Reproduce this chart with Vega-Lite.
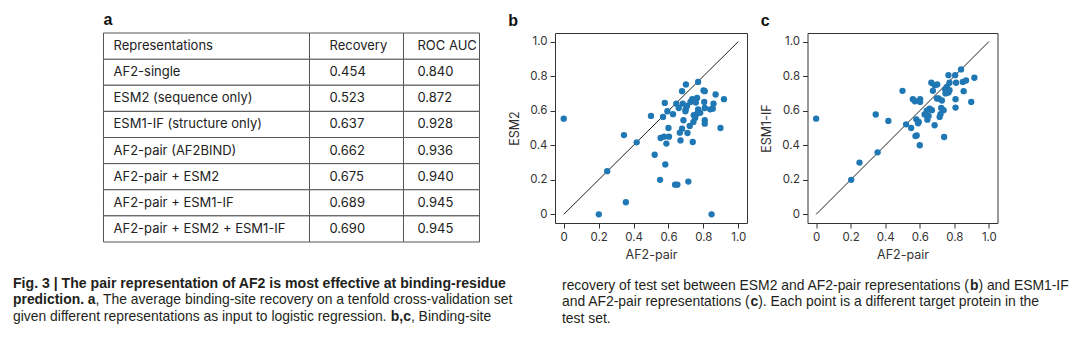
{
  "$schema": "https://vega.github.io/schema/vega-lite/v6.json",
  "padding": {"left": 13, "top": 11, "right": 5, "bottom": 5},
  "background": "white",
  "config": {
    "font": "Inter",
    "axis": {"labelFont": "Inter", "labelFontSize": 11.5, "labelColor": "#333", "titleFont": "Inter", "titleFontSize": 12.5, "titleFontWeight": "normal", "titleColor": "#333", "tickColor": "#333", "tickSize": 5, "domain": false, "grid": false, "labelPadding": 3},
    "axisX": {"titlePadding": 6},
    "axisY": {"titlePadding": 8}
  },
  "datasets": {
    "table": [
      {"Representations": "AF2-single", "Recovery": 0.454, "ROC AUC": 0.840},
      {"Representations": "ESM2 (sequence only)", "Recovery": 0.523, "ROC AUC": 0.872},
      {"Representations": "ESM1-IF (structure only)", "Recovery": 0.637, "ROC AUC": 0.928},
      {"Representations": "AF2-pair (AF2BIND)", "Recovery": 0.662, "ROC AUC": 0.936},
      {"Representations": "AF2-pair + ESM2", "Recovery": 0.675, "ROC AUC": 0.940},
      {"Representations": "AF2-pair + ESM1-IF", "Recovery": 0.689, "ROC AUC": 0.945},
      {"Representations": "AF2-pair + ESM2 + ESM1-IF", "Recovery": 0.690, "ROC AUC": 0.945}
    ],
    "header": [{"column": "Representations"}, {"column": "Recovery"}, {"column": "ROC AUC"}],
    "diag": [{"v": 0}, {"v": 1}],
    "esm2": [
      {"af2_pair": 0, "esm2": 0.554}, {"af2_pair": 0.201, "esm2": 0}, {"af2_pair": 0.249, "esm2": 0.25}, {"af2_pair": 0.356, "esm2": 0.07},
      {"af2_pair": 0.345, "esm2": 0.459}, {"af2_pair": 0.418, "esm2": 0.417}, {"af2_pair": 0.5, "esm2": 0.57}, {"af2_pair": 0.521, "esm2": 0.345},
      {"af2_pair": 0.552, "esm2": 0.2}, {"af2_pair": 0.582, "esm2": 0.289}, {"af2_pair": 0.588, "esm2": 0.41}, {"af2_pair": 0.555, "esm2": 0.442},
      {"af2_pair": 0.575, "esm2": 0.45}, {"af2_pair": 0.603, "esm2": 0.45}, {"af2_pair": 0.6, "esm2": 0.5}, {"af2_pair": 0.579, "esm2": 0.645},
      {"af2_pair": 0.569, "esm2": 0.564}, {"af2_pair": 0.594, "esm2": 0.597}, {"af2_pair": 0.626, "esm2": 0.58}, {"af2_pair": 0.645, "esm2": 0.641},
      {"af2_pair": 0.638, "esm2": 0.172}, {"af2_pair": 0.651, "esm2": 0.172}, {"af2_pair": 0.669, "esm2": 0.428}, {"af2_pair": 0.678, "esm2": 0.496},
      {"af2_pair": 0.665, "esm2": 0.473}, {"af2_pair": 0.678, "esm2": 0.713}, {"af2_pair": 0.7, "esm2": 0.752}, {"af2_pair": 0.686, "esm2": 0.545},
      {"af2_pair": 0.682, "esm2": 0.641}, {"af2_pair": 0.659, "esm2": 0.616}, {"af2_pair": 0.699, "esm2": 0.608}, {"af2_pair": 0.714, "esm2": 0.19},
      {"af2_pair": 0.709, "esm2": 0.471}, {"af2_pair": 0.722, "esm2": 0.512}, {"af2_pair": 0.697, "esm2": 0.597}, {"af2_pair": 0.707, "esm2": 0.628},
      {"af2_pair": 0.726, "esm2": 0.651}, {"af2_pair": 0.736, "esm2": 0.667}, {"af2_pair": 0.743, "esm2": 0.535}, {"af2_pair": 0.739, "esm2": 0.419},
      {"af2_pair": 0.753, "esm2": 0.558}, {"af2_pair": 0.745, "esm2": 0.574}, {"af2_pair": 0.764, "esm2": 0.674}, {"af2_pair": 0.77, "esm2": 0.767},
      {"af2_pair": 0.757, "esm2": 0.647}, {"af2_pair": 0.77, "esm2": 0.608}, {"af2_pair": 0.764, "esm2": 0.583}, {"af2_pair": 0.782, "esm2": 0.589},
      {"af2_pair": 0.801, "esm2": 0.717}, {"af2_pair": 0.808, "esm2": 0.713}, {"af2_pair": 0.805, "esm2": 0.651}, {"af2_pair": 0.808, "esm2": 0.616},
      {"af2_pair": 0.808, "esm2": 0.545}, {"af2_pair": 0.808, "esm2": 0.525}, {"af2_pair": 0.839, "esm2": 0.608}, {"af2_pair": 0.854, "esm2": 0.612},
      {"af2_pair": 0.858, "esm2": 0.641}, {"af2_pair": 0.87, "esm2": 0.694}, {"af2_pair": 0.898, "esm2": 0.5}, {"af2_pair": 0.918, "esm2": 0.667},
      {"af2_pair": 0.847, "esm2": 0}
    ],
    "esm1if": [
      {"af2_pair": 0, "esm1_if": 0.554}, {"af2_pair": 0.203, "esm1_if": 0.2}, {"af2_pair": 0.251, "esm1_if": 0.3}, {"af2_pair": 0.356, "esm1_if": 0.359},
      {"af2_pair": 0.345, "esm1_if": 0.578}, {"af2_pair": 0.418, "esm1_if": 0.541}, {"af2_pair": 0.5, "esm1_if": 0.715}, {"af2_pair": 0.521, "esm1_if": 0.521},
      {"af2_pair": 0.55, "esm1_if": 0.5}, {"af2_pair": 0.58, "esm1_if": 0.55}, {"af2_pair": 0.6, "esm1_if": 0.4}, {"af2_pair": 0.575, "esm1_if": 0.453},
      {"af2_pair": 0.582, "esm1_if": 0.457}, {"af2_pair": 0.594, "esm1_if": 0.535}, {"af2_pair": 0.59, "esm1_if": 0.527}, {"af2_pair": 0.56, "esm1_if": 0.667},
      {"af2_pair": 0.572, "esm1_if": 0.655}, {"af2_pair": 0.602, "esm1_if": 0.667}, {"af2_pair": 0.602, "esm1_if": 0.651}, {"af2_pair": 0.628, "esm1_if": 0.578},
      {"af2_pair": 0.644, "esm1_if": 0.548}, {"af2_pair": 0.651, "esm1_if": 0.57}, {"af2_pair": 0.657, "esm1_if": 0.612}, {"af2_pair": 0.67, "esm1_if": 0.603},
      {"af2_pair": 0.686, "esm1_if": 0.516}, {"af2_pair": 0.667, "esm1_if": 0.762}, {"af2_pair": 0.686, "esm1_if": 0.748}, {"af2_pair": 0.676, "esm1_if": 0.715},
      {"af2_pair": 0.701, "esm1_if": 0.752}, {"af2_pair": 0.699, "esm1_if": 0.671}, {"af2_pair": 0.709, "esm1_if": 0.671}, {"af2_pair": 0.715, "esm1_if": 0.564},
      {"af2_pair": 0.728, "esm1_if": 0.659}, {"af2_pair": 0.724, "esm1_if": 0.616}, {"af2_pair": 0.738, "esm1_if": 0.603}, {"af2_pair": 0.741, "esm1_if": 0.448},
      {"af2_pair": 0.747, "esm1_if": 0.723}, {"af2_pair": 0.757, "esm1_if": 0.738}, {"af2_pair": 0.749, "esm1_if": 0.7}, {"af2_pair": 0.772, "esm1_if": 0.762},
      {"af2_pair": 0.772, "esm1_if": 0.719}, {"af2_pair": 0.766, "esm1_if": 0.705}, {"af2_pair": 0.805, "esm1_if": 0.806}, {"af2_pair": 0.81, "esm1_if": 0.762},
      {"af2_pair": 0.807, "esm1_if": 0.667}, {"af2_pair": 0.807, "esm1_if": 0.618}, {"af2_pair": 0.766, "esm1_if": 0.806}, {"af2_pair": 0.839, "esm1_if": 0.839},
      {"af2_pair": 0.849, "esm1_if": 0.767}, {"af2_pair": 0.854, "esm1_if": 0.713}, {"af2_pair": 0.868, "esm1_if": 0.775}, {"af2_pair": 0.898, "esm1_if": 0.651},
      {"af2_pair": 0.916, "esm1_if": 0.791}, {"af2_pair": 0.64, "esm1_if": 0.6}, {"af2_pair": 0.72, "esm1_if": 0.58}
    ],
    "caption": [
      {"col": "left", "line": 1, "segment": "L1", "text": "Fig. 3 | The pair representation of AF2 is most effective at binding-residue"},
      {"col": "left", "line": 2, "segment": "L2a", "text": "prediction. a"},
      {"col": "left", "line": 2, "segment": "L2b", "text": ", The average binding-site recovery on a tenfold cross-validation set"},
      {"col": "left", "line": 3, "segment": "L3a", "text": "given different representations as input to logistic regression."},
      {"col": "left", "line": 3, "segment": "L3b", "text": "b,c"},
      {"col": "left", "line": 3, "segment": "L3c", "text": ", Binding-site"},
      {"col": "right", "line": 1, "segment": "R1a", "text": "recovery of test set between ESM2 and AF2-pair representations ("},
      {"col": "right", "line": 1, "segment": "R1b", "text": "b"},
      {"col": "right", "line": 1, "segment": "R1c", "text": ") and ESM1-IF"},
      {"col": "right", "line": 2, "segment": "R2a", "text": "and AF2-pair representations ("},
      {"col": "right", "line": 2, "segment": "R2b", "text": "c"},
      {"col": "right", "line": 2, "segment": "R2c", "text": "). Each point is a different target protein in the"},
      {"col": "right", "line": 3, "segment": "R3", "text": "test set."}
    ]
  },
  "spacing": 14.5,
  "vconcat": [
    {
      "spacing": 26.5,
      "hconcat": [
        {
          "width": 62.5, "height": 10,
          "view": {"stroke": null},
          "data": {"values": [{}]},
          "mark": {"type": "text"},
          "encoding": {"text": {"value": ""}}
        },
        {
          "title": {"text": "a", "anchor": "start", "frame": "group", "offset": 5, "fontSize": 16, "fontWeight": "bold", "font": "Liberation Sans", "color": "#111"},
          "spacing": 0,
          "bounds": "flush",
          "hconcat": [
            {
              "width": 206, "height": 209,
              "view": {"stroke": null},
              "encoding": {
                "x": {"datum": 0, "type": "quantitative", "scale": {"domain": [0, 1]}, "axis": null}
              },
              "layer": [
                {
                  "data": {"name": "table"},
                  "mark": {"type": "rect", "fill": "white", "stroke": "#555", "strokeWidth": 1},
                  "encoding": {"y": {"field": "Representations", "type": "nominal", "scale": {"domain": ["Representations", "AF2-single", "ESM2 (sequence only)", "ESM1-IF (structure only)", "AF2-pair (AF2BIND)", "AF2-pair + ESM2", "AF2-pair + ESM1-IF", "AF2-pair + ESM2 + ESM1-IF"], "paddingInner": 0, "paddingOuter": 0}, "axis": null}, "x": null}
                },
                {
                  "data": {"name": "header"},
                  "transform": [{"filter": "datum.column == 'Representations'"}],
                  "mark": {"type": "rect", "fill": "white", "stroke": "#555", "strokeWidth": 1},
                  "encoding": {"y": {"datum": "Representations", "type": "nominal"}, "x": null}
                },
                {
                  "data": {"name": "table"},
                  "mark": {"type": "text", "align": "left", "dx": 10, "font": "Inter", "fontSize": 13, "color": "#222"},
                  "encoding": {"y": {"field": "Representations", "type": "nominal"}, "text": {"field": "Representations"}}
                },
                {
                  "data": {"name": "header"},
                  "transform": [{"filter": "datum.column == 'Representations'"}],
                  "mark": {"type": "text", "align": "left", "dx": 10, "font": "Inter", "fontSize": 13, "color": "#222"},
                  "encoding": {"y": {"datum": "Representations", "type": "nominal"}, "text": {"field": "column"}}
                }
              ]
            },
            {
              "width": 94, "height": 209,
              "view": {"stroke": null},
              "encoding": {
                "x": {"datum": 0, "type": "quantitative", "scale": {"domain": [0, 1]}, "axis": null}
              },
              "layer": [
                {
                  "data": {"name": "table"},
                  "mark": {"type": "rect", "fill": "white", "stroke": "#555", "strokeWidth": 1},
                  "encoding": {"y": {"field": "Representations", "type": "nominal", "scale": {"domain": ["Representations", "AF2-single", "ESM2 (sequence only)", "ESM1-IF (structure only)", "AF2-pair (AF2BIND)", "AF2-pair + ESM2", "AF2-pair + ESM1-IF", "AF2-pair + ESM2 + ESM1-IF"], "paddingInner": 0, "paddingOuter": 0}, "axis": null}, "x": null}
                },
                {
                  "data": {"name": "header"},
                  "transform": [{"filter": "datum.column == 'Recovery'"}],
                  "mark": {"type": "rect", "fill": "white", "stroke": "#555", "strokeWidth": 1},
                  "encoding": {"y": {"datum": "Representations", "type": "nominal"}, "x": null}
                },
                {
                  "data": {"name": "table"},
                  "mark": {"type": "text", "align": "left", "dx": 20, "font": "Inter", "fontSize": 13, "color": "#222"},
                  "encoding": {"y": {"field": "Representations", "type": "nominal"}, "text": {"field": "Recovery", "type": "quantitative", "format": ".3f"}}
                },
                {
                  "data": {"name": "header"},
                  "transform": [{"filter": "datum.column == 'Recovery'"}],
                  "mark": {"type": "text", "align": "left", "dx": 20, "font": "Inter", "fontSize": 13, "color": "#222"},
                  "encoding": {"y": {"datum": "Representations", "type": "nominal"}, "text": {"field": "column"}}
                }
              ]
            },
            {
              "width": 76, "height": 209,
              "view": {"stroke": null},
              "encoding": {
                "x": {"datum": 0, "type": "quantitative", "scale": {"domain": [0, 1]}, "axis": null}
              },
              "layer": [
                {
                  "data": {"name": "table"},
                  "mark": {"type": "rect", "fill": "white", "stroke": "#555", "strokeWidth": 1},
                  "encoding": {"y": {"field": "Representations", "type": "nominal", "scale": {"domain": ["Representations", "AF2-single", "ESM2 (sequence only)", "ESM1-IF (structure only)", "AF2-pair (AF2BIND)", "AF2-pair + ESM2", "AF2-pair + ESM1-IF", "AF2-pair + ESM2 + ESM1-IF"], "paddingInner": 0, "paddingOuter": 0}, "axis": null}, "x": null}
                },
                {
                  "data": {"name": "header"},
                  "transform": [{"filter": "datum.column == 'ROC AUC'"}],
                  "mark": {"type": "rect", "fill": "white", "stroke": "#555", "strokeWidth": 1},
                  "encoding": {"y": {"datum": "Representations", "type": "nominal"}, "x": null}
                },
                {
                  "data": {"name": "table"},
                  "mark": {"type": "text", "align": "left", "dx": 14, "font": "Inter", "fontSize": 13, "color": "#222"},
                  "encoding": {"y": {"field": "Representations", "type": "nominal"}, "text": {"field": "ROC AUC", "type": "quantitative", "format": ".3f"}}
                },
                {
                  "data": {"name": "header"},
                  "transform": [{"filter": "datum.column == 'ROC AUC'"}],
                  "mark": {"type": "text", "align": "left", "dx": 14, "font": "Inter", "fontSize": 13, "color": "#222"},
                  "encoding": {"y": {"datum": "Representations", "type": "nominal"}, "text": {"field": "column"}}
                }
              ]
            }
          ]
        },
        {
          "spacing": 11.5,
          "hconcat": [
            {
              "width": 192, "height": 190,
              "title": {"text": "b", "anchor": "start", "frame": "bounds", "dx": 0, "offset": 4, "fontSize": 16, "fontWeight": "bold", "font": "Liberation Sans", "color": "#111"},
              "view": {"stroke": "#333", "strokeWidth": 1},
              "layer": [
                {
                  "data": {"name": "diag"},
                  "mark": {"type": "line", "color": "#222", "strokeWidth": 1},
                  "encoding": {
                    "x": {"field": "v", "type": "quantitative", "scale": {"domain": [-0.05, 1.05], "nice": false, "zero": false}, "axis": {"title": "AF2-pair", "values": [0, 0.2, 0.4, 0.6, 0.8, 1], "labelExpr": "datum.value == 0 ? '0' : format(datum.value, '.1f')"}},
                    "y": {"field": "v", "type": "quantitative", "scale": {"domain": [-0.05, 1.05], "nice": false, "zero": false}, "axis": {"title": "ESM2", "values": [0, 0.2, 0.4, 0.6, 0.8, 1], "labelExpr": "datum.value == 0 ? '0' : format(datum.value, '.1f')"}}
                  }
                },
                {
                  "data": {"name": "esm2"},
                  "mark": {"type": "circle", "size": 40, "color": "#1f77b4", "opacity": 1},
                  "encoding": {
                    "x": {"field": "af2_pair", "type": "quantitative", "axis": {"title": "AF2-pair", "values": [0, 0.2, 0.4, 0.6, 0.8, 1], "labelExpr": "datum.value == 0 ? '0' : format(datum.value, '.1f')"}},
                    "y": {"field": "esm2", "type": "quantitative", "axis": {"title": "ESM2", "values": [0, 0.2, 0.4, 0.6, 0.8, 1], "labelExpr": "datum.value == 0 ? '0' : format(datum.value, '.1f')"}}
                  }
                }
              ]
            },
            {
              "width": 190, "height": 190,
              "title": {"text": "c", "anchor": "start", "frame": "bounds", "dx": 0, "offset": 4, "fontSize": 16, "fontWeight": "bold", "font": "Liberation Sans", "color": "#111"},
              "view": {"stroke": "#333", "strokeWidth": 1},
              "layer": [
                {
                  "data": {"name": "diag"},
                  "mark": {"type": "line", "color": "#222", "strokeWidth": 1},
                  "encoding": {
                    "x": {"field": "v", "type": "quantitative", "scale": {"domain": [-0.05, 1.05], "nice": false, "zero": false}, "axis": {"title": "AF2-pair", "values": [0, 0.2, 0.4, 0.6, 0.8, 1], "labelExpr": "datum.value == 0 ? '0' : format(datum.value, '.1f')"}},
                    "y": {"field": "v", "type": "quantitative", "scale": {"domain": [-0.05, 1.05], "nice": false, "zero": false}, "axis": {"title": "ESM1-IF", "values": [0, 0.2, 0.4, 0.6, 0.8, 1], "labelExpr": "datum.value == 0 ? '0' : format(datum.value, '.1f')"}}
                  }
                },
                {
                  "data": {"name": "esm1if"},
                  "mark": {"type": "circle", "size": 40, "color": "#1f77b4", "opacity": 1},
                  "encoding": {
                    "x": {"field": "af2_pair", "type": "quantitative", "axis": {"title": "AF2-pair", "values": [0, 0.2, 0.4, 0.6, 0.8, 1], "labelExpr": "datum.value == 0 ? '0' : format(datum.value, '.1f')"}},
                    "y": {"field": "esm1_if", "type": "quantitative", "axis": {"title": "ESM1-IF", "values": [0, 0.2, 0.4, 0.6, 0.8, 1], "labelExpr": "datum.value == 0 ? '0' : format(datum.value, '.1f')"}}
                  }
                }
              ]
            }
          ]
        }
      ]
    },
    {
      "width": 549, "height": 33,
      "view": {"stroke": null},
      "data": {"name": "caption"},
      "encoding": {
        "x": {"field": "col", "type": "nominal", "scale": {"type": "point", "domain": ["left", "right"], "padding": 0}, "axis": null},
        "y": {"field": "line", "type": "ordinal", "scale": {"type": "point", "domain": [1, 2, 3], "padding": 0}, "axis": null},
        "text": {"field": "text"}
      },
      "layer": [
        {"transform": [{"filter": "datum.segment == 'L1'"}], "mark": {"type": "text", "align": "left", "baseline": "middle", "font": "Liberation Sans", "fontSize": 14.1, "fontWeight": "bold", "color": "#231f20"}},
        {"transform": [{"filter": "datum.segment == 'L2a'"}], "mark": {"type": "text", "align": "left", "baseline": "middle", "font": "Liberation Sans", "fontSize": 13.9, "fontWeight": "bold", "color": "#231f20"}},
        {"transform": [{"filter": "datum.segment == 'L3a'"}], "mark": {"type": "text", "align": "left", "baseline": "middle", "font": "Liberation Sans", "fontSize": 13.9, "color": "#231f20"}},
        {"transform": [{"filter": "datum.segment == 'L2b'"}], "mark": {"type": "text", "align": "left", "baseline": "middle", "dx": 82.6, "font": "Liberation Sans", "fontSize": 13.9, "color": "#231f20"}},
        {"transform": [{"filter": "datum.segment == 'L3b'"}], "mark": {"type": "text", "align": "left", "baseline": "middle", "dx": 377.8, "font": "Liberation Sans", "fontSize": 13.9, "fontWeight": "bold", "color": "#231f20"}},
        {"transform": [{"filter": "datum.segment == 'L3c'"}], "mark": {"type": "text", "align": "left", "baseline": "middle", "dx": 397.9, "font": "Liberation Sans", "fontSize": 13.9, "color": "#231f20"}},
        {"transform": [{"filter": "indexof(['R1a','R2a','R3'], datum.segment) >= 0"}], "mark": {"type": "text", "align": "left", "baseline": "middle", "dy": 2, "font": "Liberation Sans", "fontSize": 13.9, "color": "#231f20"}},
        {"transform": [{"filter": "datum.segment == 'R1b'"}], "mark": {"type": "text", "align": "left", "baseline": "middle", "dy": 2, "dx": 407.9, "font": "Liberation Sans", "fontSize": 13.9, "fontWeight": "bold", "color": "#231f20"}},
        {"transform": [{"filter": "datum.segment == 'R1c'"}], "mark": {"type": "text", "align": "left", "baseline": "middle", "dy": 2, "dx": 416.4, "font": "Liberation Sans", "fontSize": 13.9, "color": "#231f20"}},
        {"transform": [{"filter": "datum.segment == 'R2b'"}], "mark": {"type": "text", "align": "left", "baseline": "middle", "dy": 2, "dx": 188.5, "font": "Liberation Sans", "fontSize": 13.9, "fontWeight": "bold", "color": "#231f20"}},
        {"transform": [{"filter": "datum.segment == 'R2c'"}], "mark": {"type": "text", "align": "left", "baseline": "middle", "dy": 2, "dx": 196.2, "font": "Liberation Sans", "fontSize": 13.9, "color": "#231f20"}}
      ]
    }
  ]
}
